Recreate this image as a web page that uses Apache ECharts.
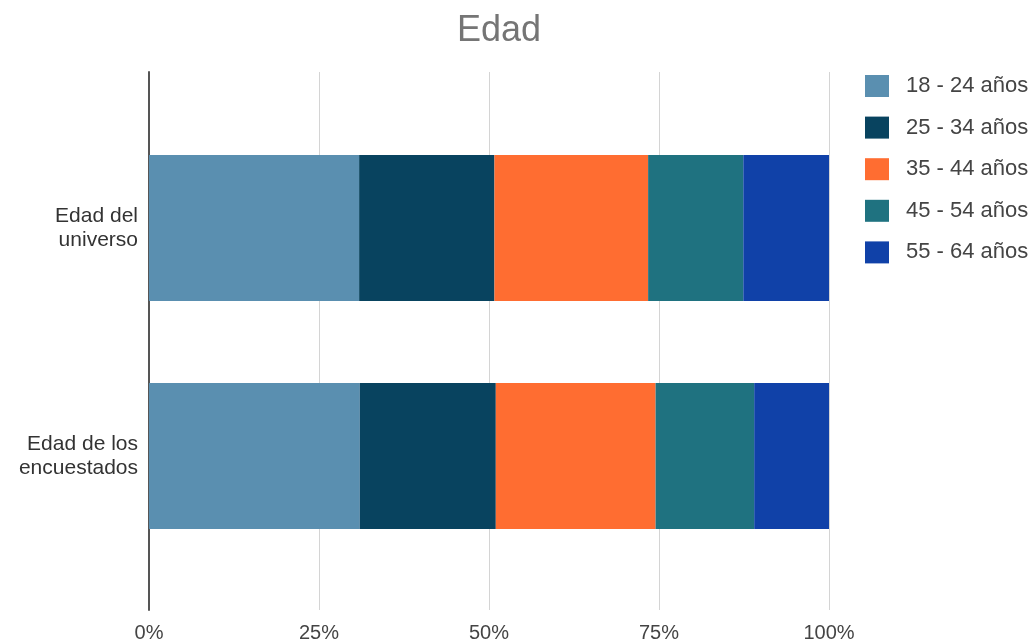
<!DOCTYPE html>
<html>
<head>
<meta charset="utf-8">
<script src="https://cdn.jsdelivr.net/npm/echarts@6/dist/echarts.min.js"></script>
<style>
  html, body { margin: 0; padding: 0; background: #ffffff; }
  #chart { width: 1036px; height: 644px; }
</style>
</head>
<body>
<div id="chart"></div>
<script>
// Age distribution: population vs. respondents (shares in %)
const categories = ['Edad del\nuniverso', 'Edad de los\nencuestados'];
const ageGroups = ['18 - 24 años', '25 - 34 años', '35 - 44 años', '45 - 54 años', '55 - 64 años'];
const age18to24 = [30.9, 31.0];
const age25to34 = [19.9, 20.0];
const age35to44 = [22.6, 23.5];
const age45to54 = [14.0, 14.5];
const age55to64 = [12.6, 11.0];
const groupValues = [age18to24, age25to34, age35to44, age45to54, age55to64];
const groupColors = ['#5a8fb0', '#08435f', '#ff6d31', '#1f7280', '#1041a8'];
const tickValues = [0, 25, 50, 75, 100];

const fontFamily = "'Liberation Sans', Arial, sans-serif";

const chart = echarts.init(document.getElementById('chart'), null, { renderer: 'canvas' });

const series = ageGroups.map((name, i) => ({
  name: name,
  type: 'bar',
  stack: 'total',
  xAxisIndex: 1,
  yAxisIndex: 1,
  barCategoryGap: '36%',
  itemStyle: { color: groupColors[i] },
  emphasis: { disabled: true },
  data: groupValues[i]
}));

chart.setOption({
  animation: false,
  backgroundColor: '#ffffff',
  title: {
    text: 'Edad',
    left: 499,
    top: 13,
    padding: 0,
    textAlign: 'center',
    textStyle: { fontFamily: fontFamily, fontSize: 36, fontWeight: 'normal', color: '#757575' }
  },
  legend: {
    data: ageGroups,
    orient: 'vertical',
    left: 865,
    top: 75,
    padding: 0,
    icon: 'rect',
    itemWidth: 24,
    itemHeight: 22,
    itemGap: 19.6,
    textStyle: {
      fontFamily: fontFamily,
      fontSize: 22,
      color: '#444444',
      padding: [0, 0, 0, 12]
    }
  },
  grid: [
    // frame: gridlines, percentage ticks and the baseline
    { left: 149, width: 680, top: 72, height: 538, containLabel: false },
    // bars
    { left: 149, width: 680, top: 114, height: 456, containLabel: false }
  ],
  xAxis: [
    {
      gridIndex: 0,
      type: 'value',
      min: tickValues[0],
      max: tickValues[tickValues.length - 1],
      interval: 25,
      axisLine: { show: false },
      axisTick: { show: false },
      splitLine: { show: true, lineStyle: { color: '#d4d4d4', width: 1 } },
      axisLabel: {
        formatter: '{value}%',
        margin: 13,
        fontFamily: fontFamily,
        fontSize: 20,
        color: '#444444'
      }
    },
    {
      gridIndex: 1,
      type: 'value',
      min: 0,
      max: 100,
      show: false
    }
  ],
  yAxis: [
    {
      gridIndex: 0,
      type: 'value',
      min: 0,
      max: 1,
      axisLine: { show: true, lineStyle: { color: '#555555', width: 2 } },
      axisTick: { show: false },
      axisLabel: { show: false },
      splitLine: { show: false }
    },
    {
      gridIndex: 1,
      type: 'category',
      inverse: true,
      data: categories,
      axisLine: { show: false },
      axisTick: { show: false },
      splitLine: { show: false },
      axisLabel: {
        margin: 11,
        align: 'right',
        lineHeight: 24,
        fontFamily: fontFamily,
        fontSize: 21,
        color: '#333333'
      }
    }
  ],
  series: series
});
</script>
</body>
</html>
